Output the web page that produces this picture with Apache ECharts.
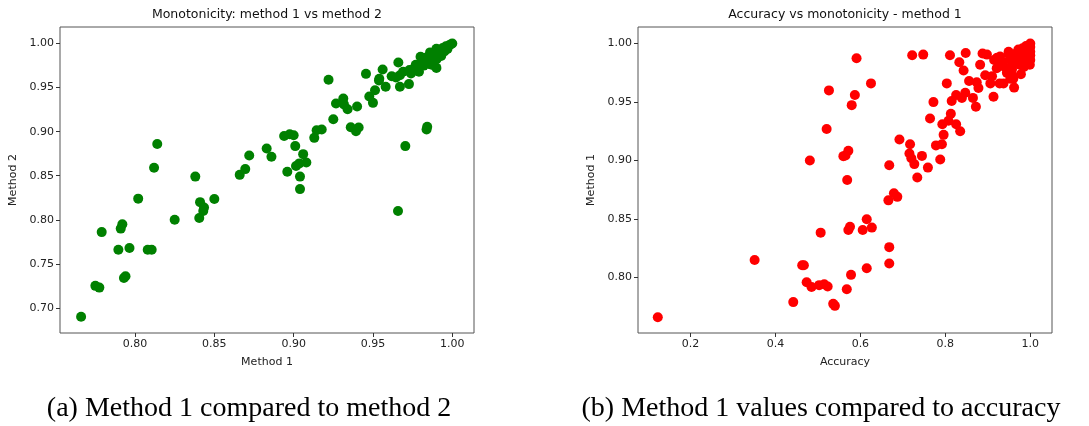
<!DOCTYPE html>
<html>
<head>
<meta charset="utf-8">
<script src="https://cdn.jsdelivr.net/npm/echarts@6/dist/echarts.min.js"></script>
<style>
  html, body { margin: 0; padding: 0; background: #fff; }
  #main { width: 1089px; height: 426px; }
</style>
</head>
<body>
<div id="main"></div>
<script>
// (a) method 1 (x) vs method 2 (y)
const method1A = [0.766, 0.775, 0.7775, 0.779, 0.7895, 0.791, 0.792, 0.793, 0.794, 0.7965,
  0.802, 0.808, 0.8105, 0.812, 0.814, 0.825, 0.838, 0.8405, 0.841, 0.8435,
  0.843, 0.850, 0.866, 0.8695, 0.872, 0.883, 0.886, 0.894, 0.8975, 0.900,
  0.896, 0.901, 0.9015, 0.9036, 0.904, 0.904, 0.906, 0.908, 0.913, 0.9145,
  0.9177, 0.922, 0.925, 0.9267, 0.9313, 0.9317, 0.934, 0.936, 0.9393, 0.941,
  0.940, 0.9456, 0.9477, 0.950, 0.9513, 0.9538, 0.954, 0.9561, 0.958, 0.9618,
  0.9645, 0.967, 0.966, 0.9727, 0.9704, 0.9658, 0.9838, 0.9842, 0.990,
  0.973, 0.976, 0.979, 0.981, 0.983, 0.985, 0.986, 0.988, 0.989, 0.991,
  0.992, 0.993, 0.994, 0.995, 0.996, 0.997, 0.998, 0.999, 1.0, 0.982,
  0.984, 0.987, 0.990, 0.977, 0.969, 0.967, 0.974, 0.980, 0.986, 0.990];
const method2A = [0.690, 0.725, 0.723, 0.786, 0.766, 0.790, 0.795, 0.734, 0.736, 0.768,
  0.824, 0.766, 0.766, 0.859, 0.886, 0.800, 0.849, 0.802, 0.820, 0.814,
  0.810, 0.8235, 0.851, 0.8575, 0.873, 0.881, 0.8715, 0.895, 0.897, 0.896,
  0.8545, 0.8836, 0.861, 0.864, 0.849, 0.8348, 0.8745, 0.865, 0.893, 0.9017,
  0.9025, 0.959, 0.914, 0.932, 0.9376, 0.931, 0.9255, 0.905, 0.9006, 0.9048,
  0.9286, 0.9656, 0.940, 0.9327, 0.947, 0.958, 0.960, 0.9705, 0.951, 0.963,
  0.9615, 0.951, 0.9785, 0.954, 0.8836, 0.810, 0.9025, 0.9055, 0.9724,
  0.970, 0.972, 0.968, 0.980, 0.984, 0.977, 0.982, 0.986, 0.990, 0.988,
  0.993, 0.986, 0.995, 0.991, 0.997, 0.994, 0.998, 0.999, 1.0, 0.975,
  0.979, 0.976, 0.982, 0.976, 0.968, 0.964, 0.966, 0.985, 0.990, 0.994];

// (b) accuracy (x) vs method 1 (y)
const accuracyB = [0.123, 0.351, 0.442, 0.463, 0.467, 0.4735, 0.481, 0.485, 0.503, 0.515,
  0.523, 0.5065, 0.5206, 0.526, 0.536, 0.540, 0.560, 0.565, 0.5717, 0.568,
  0.569, 0.5717, 0.5756, 0.578, 0.5796, 0.587, 0.591, 0.6055, 0.615, 0.615,
  0.625, 0.627, 0.666, 0.668, 0.668, 0.668, 0.679, 0.687, 0.692, 0.717,
  0.7155, 0.720, 0.727, 0.722, 0.734, 0.745, 0.748, 0.759, 0.764, 0.772,
  0.778, 0.788, 0.792, 0.796, 0.793, 0.8035, 0.8075, 0.813, 0.811, 0.815,
  0.8255, 0.8255, 0.835, 0.833, 0.843, 0.839, 0.847, 0.848, 0.856, 0.865,
  0.872, 0.874, 0.878, 0.882, 0.8876, 0.898, 0.894, 0.906, 0.910, 0.9135,
  0.921, 0.929, 0.928, 0.937, 0.949, 0.953, 0.957, 0.962, 0.978,
  0.915, 0.922, 0.929, 0.935, 0.940, 0.945, 0.949, 0.952, 0.955, 0.957,
  0.960, 0.963, 0.965, 0.968, 0.970, 0.972, 0.975, 0.977, 0.980, 0.982,
  0.985, 0.987, 0.990, 0.992, 0.994, 0.996, 0.998, 1.0, 1.0, 1.0,
  1.0, 1.0, 0.999, 0.985, 0.960, 0.955];
const method1B = [0.766, 0.815, 0.779, 0.8105, 0.8105, 0.796, 0.900, 0.792, 0.7935, 0.7943,
  0.7923, 0.8384, 0.927, 0.960, 0.7775, 0.7758, 0.9038, 0.9044, 0.9084, 0.790,
  0.8834, 0.8407, 0.8435, 0.8023, 0.9474, 0.956, 0.9875, 0.8407, 0.8498, 0.808,
  0.966, 0.8427, 0.866, 0.896, 0.826, 0.812, 0.872, 0.869, 0.918, 0.914,
  0.906, 0.902, 0.897, 0.990, 0.8856, 0.904, 0.9906, 0.894, 0.936, 0.950,
  0.913, 0.901, 0.914, 0.922, 0.931, 0.966, 0.934, 0.940, 0.990, 0.951,
  0.931, 0.956, 0.925, 0.984, 0.977, 0.9536, 0.958, 0.992, 0.968, 0.9536,
  0.946, 0.967, 0.962, 0.982, 0.9915, 0.9906, 0.973, 0.966, 0.972, 0.9545,
  0.979, 0.986, 0.966, 0.966, 0.9915, 0.970, 0.973, 0.9624, 0.9738,
  0.986, 0.988, 0.989, 0.984, 0.980, 0.975, 0.993, 0.987, 0.980, 0.978,
  0.983, 0.990, 0.985, 0.992, 0.988, 0.995, 0.982, 0.990, 0.985, 0.996,
  0.993, 0.990, 0.998, 0.985, 0.995, 0.990, 0.988, 1.0, 0.997, 0.993,
  0.990, 0.986, 0.982, 0.980, 0.970, 0.972];

const ticksA_x = [0.80, 0.85, 0.90, 0.95, 1.00];
const ticksA_y = [0.70, 0.75, 0.80, 0.85, 0.90, 0.95, 1.00];
const ticksB_x = [0.2, 0.4, 0.6, 0.8, 1.0];
const ticksB_y = [0.80, 0.85, 0.90, 0.95, 1.00];

const chartTitles = ['Monotonicity: method 1 vs method 2', 'Accuracy vs monotonicity - method 1'];
const captions = ['(a) Method 1 compared to method 2', '(b) Method 1 values compared to accuracy'];

function pairs(xs, ys) {
  return xs.map((x, i) => [x, ys[i]]);
}

function valueAxis(idx, min, max, ticks, digits, name, isY) {
  return {
    type: 'value',
    gridIndex: idx,
    min: min,
    max: max,
    name: name,
    nameLocation: 'middle',
    nameGap: isY ? 41 : 24,
    nameTextStyle: { fontFamily: 'DejaVu Sans', fontSize: 11, color: '#222' },
    axisLine: { show: false },
    axisTick: {
      show: true, inside: false, length: 4, customValues: ticks,
      lineStyle: { color: '#333', width: 1 }
    },
    axisLabel: {
      show: true, customValues: ticks, margin: 6,
      fontFamily: 'DejaVu Sans', fontSize: 11, color: '#222',
      formatter: v => Number(v).toFixed(digits)
    },
    splitLine: { show: false }
  };
}

let myChart = echarts.init(document.getElementById('main'), null, { renderer: 'canvas' });
let option = {
  backgroundColor: '#fff',
  animation: false,
  grid: [
    { left: 60, top: 27, width: 414, height: 306, show: true, borderColor: '#555', borderWidth: 1, backgroundColor: 'transparent' },
    { left: 638, top: 27, width: 414, height: 306, show: true, borderColor: '#555', borderWidth: 1, backgroundColor: 'transparent' }
  ],
  xAxis: [
    valueAxis(0, 0.7527, 1.0137, ticksA_x, 2, 'Method 1', false),
    valueAxis(1, 0.0764, 1.0512, ticksB_x, 1, 'Accuracy', false)
  ],
  yAxis: [
    valueAxis(0, 0.6715, 1.0188, ticksA_y, 2, 'Method 2', true),
    valueAxis(1, 0.7526, 1.0142, ticksB_y, 2, 'Method 1', true)
  ],
  series: [
    {
      type: 'scatter', xAxisIndex: 0, yAxisIndex: 0,
      data: pairs(method1A, method2A),
      symbol: 'circle', symbolSize: 10,
      itemStyle: { color: '#008000', opacity: 1 }
    },
    {
      type: 'scatter', xAxisIndex: 1, yAxisIndex: 1,
      data: pairs(accuracyB, method1B),
      symbol: 'circle', symbolSize: 10,
      itemStyle: { color: '#ff0000', opacity: 1 }
    }
  ],
  graphic: [
    { type: 'text', x: 267, y: 15, style: { text: chartTitles[0], font: '12.5px "DejaVu Sans"', fill: '#111', align: 'center', verticalAlign: 'middle' } },
    { type: 'text', x: 845, y: 15, style: { text: chartTitles[1], font: '12.5px "DejaVu Sans"', fill: '#111', align: 'center', verticalAlign: 'middle' } },
    { type: 'text', x: 249, y: 409, style: { text: captions[0], font: '28px "Liberation Serif"', fill: '#000', align: 'center', verticalAlign: 'middle' } },
    { type: 'text', x: 821, y: 409, style: { text: captions[1], font: '28px "Liberation Serif"', fill: '#000', align: 'center', verticalAlign: 'middle' } }
  ]
};
if (option && typeof option === 'object') {
  myChart.setOption(option);
}
</script>
</body>
</html>
